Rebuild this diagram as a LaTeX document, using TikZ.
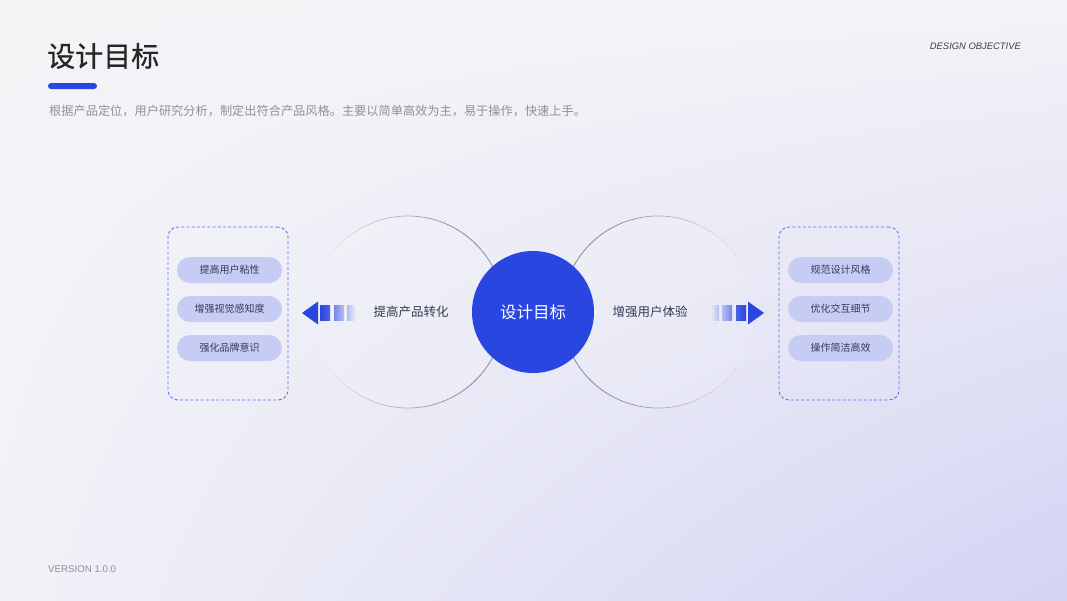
\documentclass[tikz,border=0pt]{standalone}
\usepackage{fontspec}
\setmainfont{Liberation Sans}
\newfontfamily\cjk{Noto Sans CJK SC}
\newfontfamily\cjkmed{Noto Sans CJK SC}[FakeBold=0.7]
\usetikzlibrary{shadings,calc}
\definecolor{bluemain}{HTML}{2A46E0}
\definecolor{bgtl}{HTML}{F4F4F7}
\definecolor{bgtr}{HTML}{F3F3F7}
\definecolor{bgbl}{HTML}{F1F2F7}
\definecolor{bgbr}{HTML}{D3D3F4}
\definecolor{pillfill}{HTML}{C6CCF3}
\definecolor{pilltext}{HTML}{363A58}
\definecolor{sidetext}{HTML}{383C55}
\definecolor{ringgray}{HTML}{7E829C}
\definecolor{dashblue}{HTML}{5E6FE8}
\definecolor{subgray}{HTML}{909196}
\definecolor{fadeend}{HTML}{E8EAF8}
\tikzset{
  pill/.style={fill=pillfill, rounded corners=13pt, minimum width=105pt, minimum height=26pt, inner sep=0pt,
    text=pilltext, font=\cjk\fontsize{10}{12}\selectfont},
  dashbox/.style={draw=dashblue, dashed, dash pattern=on 3pt off 2.2pt, line width=0.9pt, rounded corners=10pt,
    minimum width=120pt, minimum height=173pt, inner sep=0pt},
  sidelabel/.style={text=sidetext, font=\cjk\fontsize{12.5}{14}\selectfont, inner sep=0pt},
  ring/.style={draw=ringgray, line width=0.75pt}
}
\begin{document}
\begin{tikzpicture}[x=1pt,y=-1pt]
\useasboundingbox (0,0) rectangle (1067,600);
\shade[upper left=bgtl, upper right=bgtr, lower left=bgbl, lower right=bgbr] (0,0) rectangle (1067,600);

% header
\node[anchor=west, inner sep=0pt, text=black!85, font=\cjkmed\fontsize{28}{32}\selectfont] (title) at (47,56) {设计目标};
\fill[bluemain, rounded corners=3pt] (48,83) rectangle (97,89);
\node[anchor=west, inner sep=0pt, text=subgray, font=\cjk\fontsize{12.2}{14}\selectfont] (sub) at (49,111)
  {根据产品定位，用户研究分析，制定出符合产品风格。主要以简单高效为主，易于操作，快速上手。};
\node[anchor=east, inner sep=0pt, text=black!75, font=\itshape\fontsize{9.4}{11}\selectfont] (en) at (1021,46) {DESIGN OBJECTIVE};
\node[anchor=west, inner sep=0pt, text=subgray, font=\fontsize{9.7}{11}\selectfont] (ver) at (48,569) {VERSION 1.0.0};

% rings (stroke fading outward)
\coordinate (lc) at (408,312);
\coordinate (rc) at (658,312);
\fill[white, opacity=0.1] (lc) circle[radius=96];
\fill[white, opacity=0.1] (rc) circle[radius=96];
\foreach \a in {0,4,...,356}{
  \pgfmathsetmacro\op{max(0,min(1,(cos(\a+2)+0.9)/1.5))}
  \draw[ring, draw opacity=\op] ($(lc)+(\a:96)$) arc[start angle=\a, end angle=\a+4, radius=96];
  \pgfmathsetmacro\opr{max(0,min(1,(-cos(\a+2)+0.9)/1.5))}
  \draw[ring, draw opacity=\opr] ($(rc)+(\a:96)$) arc[start angle=\a, end angle=\a+4, radius=96];
}

% center
\node[circle, fill=bluemain, minimum size=122pt, inner sep=0pt, text=white, font=\cjk\fontsize{16.5}{18}\selectfont] (center) at (533,312) {设计目标};

\node[sidelabel] (lefttext) at (411,312) {提高产品转化};
\node[sidelabel] (righttext) at (650,312) {增强用户体验};

% boxes
\node[dashbox] (leftbox) at (228,313.5) {};
\node[dashbox] (rightbox) at (839,313.5) {};

\node[pill] (l1) at (229.5,270) {提高用户粘性};
\node[pill] (l2) at (229.5,309) {增强视觉感知度};
\node[pill] (l3) at (229.5,348) {强化品牌意识};
\node[pill] (r1) at (840.5,270) {规范设计风格};
\node[pill] (r2) at (840.5,309) {优化交互细节};
\node[pill] (r3) at (840.5,348) {操作简洁高效};

% left arrow
\fill[bluemain] (302,313) -- (318,301.5) -- (318,324.5) -- cycle;
\shade[left color=bluemain, right color=bluemain!85!white] (320,305.5) rectangle (330,320.5);
\shade[left color=bluemain!65!white, right color=bluemain!35!white] (334,305.5) rectangle (344,320.5);
\shade[left color=bluemain!28!fadeend, right color=fadeend] (347,305.5) rectangle (355,320.5);

% right arrow
\fill[bluemain] (764,313) -- (748,301.5) -- (748,324.5) -- cycle;
\shade[right color=bluemain, left color=bluemain!85!white] (736,305.5) rectangle (746,320.5);
\shade[right color=bluemain!65!white, left color=bluemain!35!white] (722,305.5) rectangle (732,320.5);
\shade[right color=bluemain!28!fadeend, left color=fadeend] (711,305.5) rectangle (719,320.5);
\end{tikzpicture}
\end{document}
